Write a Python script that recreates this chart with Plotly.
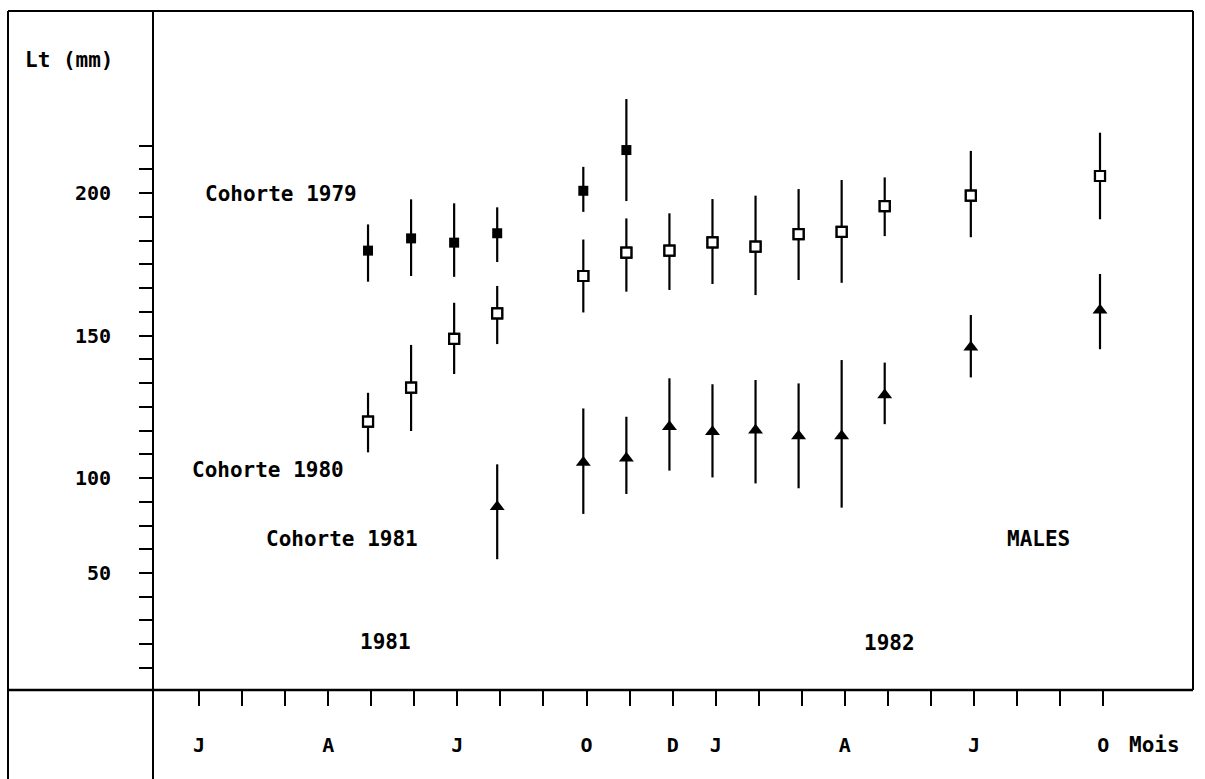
import plotly.graph_objects as go

# ---------------- data (months: 0 = January 1981) ----------------
months_1979 = [4, 5, 6, 7, 9, 10]
mean_1979 = [179.8, 184.1, 182.6, 185.9, 200.8, 215.1]
upper_1979 = [189.0, 197.8, 196.4, 195.0, 209.2, 233.0]
lower_1979 = [168.9, 170.9, 170.6, 175.8, 193.4, 197.2]

months_1980 = [4, 5, 6, 7, 9, 10, 11, 12, 13, 14, 15, 16, 18, 21]
mean_1980 = [119.8, 131.7, 148.8, 157.8, 170.9, 179.1, 179.8, 182.7, 181.2, 185.6, 186.4, 195.4, 199.1, 206.0]
upper_1980 = [129.9, 146.7, 161.5, 167.4, 183.7, 191.1, 192.9, 197.9, 199.1, 201.4, 204.6, 205.5, 214.8, 221.2]
lower_1980 = [109.0, 116.5, 136.5, 147.0, 158.1, 165.4, 166.0, 168.1, 164.2, 169.5, 168.5, 184.9, 184.5, 190.8]

months_1981 = [7, 9, 10, 11, 12, 13, 14, 15, 16, 18, 21]
mean_1981 = [89.9, 105.4, 106.9, 118.0, 116.2, 116.8, 114.7, 114.7, 129.1, 145.9, 158.9]
upper_1981 = [104.8, 124.4, 121.5, 135.0, 132.9, 134.4, 133.2, 141.4, 140.5, 157.2, 171.6]
lower_1981 = [71.5, 87.4, 94.4, 102.6, 100.2, 98.1, 96.4, 89.6, 118.9, 135.3, 145.2]

month_ticks = list(range(0, 22))
month_labels = {0: "J", 3: "A", 6: "J", 9: "O", 11: "D", 12: "J", 15: "A", 18: "J", 21: "O"}

y_tick_labels = {0: "200", 6: "150", 12: "100", 16: "50"}  # index of minor tick -> label
y_tick_count = range(-2, 21)

FONT = "DejaVu Sans Mono"


def px_x(p):
    return (p - 153) / 1040


def px_y(p):
    return (690 - p) / 679


def err(mean, up, lo):
    return dict(type="data", symmetric=False,
                array=[u - m for u, m in zip(up, mean)],
                arrayminus=[m - l for m, l in zip(mean, lo)],
                width=0, thickness=2.2, color="black")


fig = go.Figure()
fig.add_trace(go.Scatter(x=months_1979, y=mean_1979, mode="markers",
                         marker=dict(symbol="square", size=10, color="black"),
                         error_y=err(mean_1979, upper_1979, lower_1979), showlegend=False))
fig.add_trace(go.Scatter(x=months_1980, y=mean_1980, mode="markers",
                         marker=dict(symbol="square", size=10, color="white",
                                     line=dict(color="black", width=2.2)),
                         error_y=err(mean_1980, upper_1980, lower_1980), showlegend=False))
fig.add_trace(go.Scatter(x=months_1981, y=mean_1981, mode="markers",
                         marker=dict(symbol="triangle-up", size=13, color="black"),
                         error_y=err(mean_1981, upper_1981, lower_1981), showlegend=False))

# re-draw open squares on top of their error bars
fig.add_trace(go.Scatter(x=months_1980, y=mean_1980, mode="markers",
                         marker=dict(symbol="square", size=10, color="white",
                                     line=dict(color="black", width=2.2)),
                         showlegend=False, hoverinfo="skip"))

tick_offset = 0.075
x_tickvals = [m + tick_offset for m in month_ticks]
x_ticktext = [month_labels.get(m, "") for m in month_ticks]

y_tickvals = [200 - k * 50 / 6 for k in y_tick_count]
y_ticktext = [y_tick_labels.get(k, "") for k in y_tick_count]

fig.update_xaxes(range=[-0.994, 23.16], showgrid=False, zeroline=False, showline=False,
                 tickmode="array", tickvals=x_tickvals, ticktext=x_ticktext,
                 ticks="outside", ticklen=15, tickwidth=2, tickcolor="black",
                 ticklabelstandoff=22,
                 tickfont=dict(family=FONT, size=20, color="black", weight="bold"))
fig.update_yaxes(range=[25.6, 263.9], showgrid=False, zeroline=False, showline=False,
                 tickmode="array", tickvals=y_tickvals, ticktext=y_ticktext,
                 ticks="outside", ticklen=13, tickwidth=2, tickcolor="black",
                 ticklabelstandoff=24,
                 tickfont=dict(family=FONT, size=20, color="black", weight="bold"))

line = dict(color="black", width=2)
shapes = [
    dict(type="line", xref="paper", yref="paper", x0=px_x(8), x1=px_x(1193), y0=px_y(11), y1=px_y(11), line=line),
    dict(type="line", xref="paper", yref="paper", x0=px_x(8), x1=px_x(8), y0=px_y(11), y1=px_y(779), line=line),
    dict(type="line", xref="paper", yref="paper", x0=px_x(1193), x1=px_x(1193), y0=px_y(11), y1=px_y(690), line=line),
    dict(type="line", xref="paper", yref="paper", x0=px_x(8), x1=px_x(1193), y0=px_y(690), y1=px_y(690), line=dict(color="black", width=2.5)),
    dict(type="line", xref="paper", yref="paper", x0=px_x(153), x1=px_x(153), y0=px_y(11), y1=px_y(779), line=line),
]

texts = [
    ("Lt (mm)", 23, 60),
    ("Cohorte 1979", 203, 194),
    ("Cohorte 1980", 190, 470),
    ("Cohorte 1981", 264, 539),
    ("1981", 358, 642),
    ("1982", 862, 643),
    ("MALES", 1005, 539),
    ("Mois", 1127, 745),
]
annotations = [
    dict(text=t, xref="paper", yref="paper", x=px_x(xp), y=px_y(yp),
         xanchor="left", yanchor="middle", showarrow=False,
         font=dict(family=FONT, size=21, color="black", weight="bold"))
    for t, xp, yp in texts
]

fig.update_layout(width=1205, height=779, margin=dict(l=153, r=12, t=11, b=89),
                  paper_bgcolor="white", plot_bgcolor="white",
                  shapes=shapes, annotations=annotations, showlegend=False)

fig.write_html("out.html", config={"displayModeBar": False},
               post_script="document.body.style.margin='0';document.body.style.overflow='hidden';")
